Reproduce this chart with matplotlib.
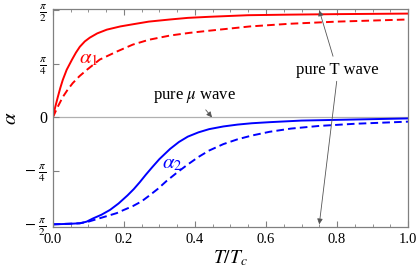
import numpy as np
import matplotlib
matplotlib.use('Agg')
import matplotlib.pyplot as plt
from matplotlib.ticker import MultipleLocator

plt.rcParams['font.family'] = ['Liberation Serif', 'DejaVu Serif']
plt.rcParams['mathtext.fontset'] = 'stix'
plt.rcParams['lines.scale_dashes'] = False

# alpha values are read in units of pi/4
t_a1 = [0, 0.007, 0.014, 0.021, 0.028, 0.039, 0.054, 0.065, 0.076, 0.09, 0.104,
        0.125, 0.152, 0.19, 0.225, 0.27, 0.33, 0.38, 0.44, 0.55, 0.66, 0.8, 1.0]
a1_solid = [0, 0.2, 0.38, 0.55, 0.70, 0.89, 1.08, 1.21, 1.32, 1.42, 1.49,
            1.57, 1.64, 1.70, 1.74, 1.79, 1.83, 1.86, 1.88, 1.91, 1.92, 1.93, 1.94]

t_a1d = [0, 0.014, 0.028, 0.042, 0.056, 0.075, 0.096, 0.132, 0.18, 0.225, 0.27,
         0.33, 0.385, 0.44, 0.555, 0.667, 0.8, 1.0]
a1_dash = [0, 0.2, 0.38, 0.52, 0.64, 0.77, 0.89, 1.08, 1.23, 1.36, 1.45,
           1.53, 1.58, 1.62, 1.70, 1.75, 1.79, 1.83]

t_a2 = [0, 0.048, 0.076, 0.095, 0.113, 0.137, 0.161, 0.185, 0.21, 0.228, 0.245,
        0.262, 0.28, 0.30, 0.33, 0.355, 0.38, 0.41, 0.44, 0.48, 0.52, 0.56, 0.61, 0.7, 0.85, 1.0]
a2_solid = [-2.0, -1.99, -1.98, -1.95, -1.89, -1.82, -1.73, -1.61, -1.46, -1.34, -1.21,
            -1.07, -0.93, -0.78, -0.59, -0.46, -0.36, -0.28, -0.22, -0.17, -0.135, -0.11,
            -0.09, -0.06, -0.04, -0.02]

t_a2d = [0, 0.076, 0.10, 0.13, 0.155, 0.18, 0.2, 0.225, 0.25, 0.27, 0.295, 0.32,
         0.35, 0.38, 0.41, 0.44, 0.48, 0.52, 0.56, 0.61, 0.67, 0.75, 0.85, 1.0]
a2_dash = [-2.0, -1.98, -1.95, -1.89, -1.84, -1.79, -1.73, -1.66, -1.57, -1.47, -1.34, -1.19,
           -1.03, -0.88, -0.74, -0.62, -0.50, -0.41, -0.34, -0.27, -0.21, -0.16, -0.12, -0.08]

x_ticks = [0.0, 0.2, 0.4, 0.6, 0.8, 1.0]
x_ticklabels = ['0.0', '0.2', '0.4', '0.6', '0.8', '1.0']
y_ticks = [-2, -1, 0, 1, 2]
y_ticklabels = [r'$-\ \frac{\pi}{2}$', r'$-\ \frac{\pi}{4}$', '0', r'$\frac{\pi}{4}$', r'$\frac{\pi}{2}$']

q = np.pi / 4
red = '#ff0000'
blue = '#0000ff'
frame = '#808080'

fig = plt.figure(figsize=(4.16, 2.75), dpi=100)
ax = fig.add_axes([0.127, 0.1745, 0.854, 0.7925])

ax.axhline(0, color='#b0b0b0', lw=0.9, zorder=1)
ax.plot(t_a1, np.array(a1_solid) * q, color=red, lw=1.4)
ax.plot(t_a1d, np.array(a1_dash) * q, color=red, lw=1.4, dashes=(5.5, 3))
ax.plot(t_a2, np.array(a2_solid) * q, color=blue, lw=1.4)
ax.plot(t_a2d, np.array(a2_dash) * q, color=blue, lw=1.4, dashes=(5.5, 3))

ax.text(0.10, 1.09 * q, r'$\alpha_1$', color=red, fontsize=15, ha='center', va='center')
ax.text(0.336, -0.87 * q, r'$\alpha_2$', color=blue, fontsize=15, ha='center', va='center')

arr = dict(arrowstyle='-|>', color='#555555', lw=0.6, mutation_scale=8, shrinkB=0)
ax.annotate(r'pure $\mu$ wave', xy=(0.448, 0), xytext=(0.40, 0.30), fontsize=12,
            ha='center', va='center', arrowprops=arr)
ax.annotate('pure T wave', xy=(0.75, np.pi / 2), xytext=(0.80, 0.70), fontsize=12,
            ha='center', va='center', arrowprops=arr)
ax.annotate('', xy=(0.75, -np.pi / 2), xytext=(0.80, 0.57), arrowprops=arr)

ax.set_xlim(0, 1)
ax.set_ylim(-1.61, 1.59)
ax.set_xticks(x_ticks)
ax.set_xticklabels(x_ticklabels)
ax.xaxis.set_minor_locator(MultipleLocator(0.05))
ax.set_yticks(np.array(y_ticks) * q)
ax.set_yticklabels(y_ticklabels)

for s in ax.spines.values():
    s.set_color(frame)
    s.set_linewidth(0.9)
ax.tick_params(axis='x', which='both', direction='in', top=True, color=frame, labelsize=10.5, pad=4)
ax.tick_params(axis='x', which='major', length=4)
ax.tick_params(axis='x', which='minor', length=2.5)
ax.tick_params(axis='y', direction='in', length=4, color=frame, labelsize=11.5, pad=4)

ax.set_xlabel(r'$T/T_c$', fontsize=14, labelpad=2)
ax.set_ylabel(r'$\alpha$', fontsize=15, rotation=90, va='center', ha='center')
ax.yaxis.set_label_coords(-0.115, 0.5)

fig.savefig('out.png', dpi=100)
